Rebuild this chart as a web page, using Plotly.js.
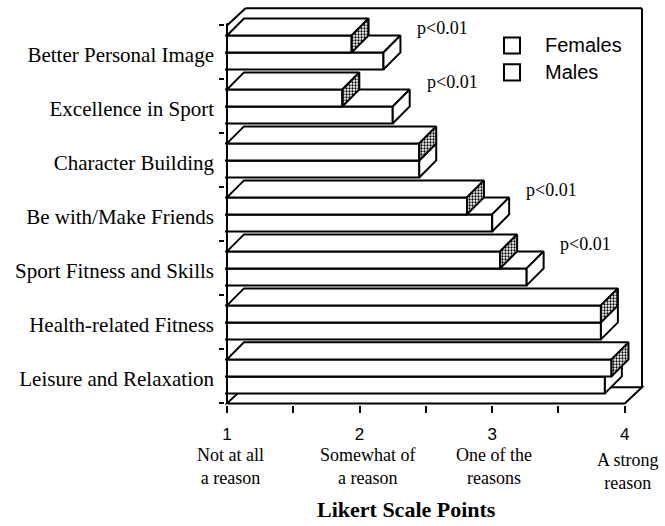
<!DOCTYPE html>
<html><head><meta charset="utf-8">
<script src="https://cdn.plot.ly/plotly-3.0.1.min.js"></script>
<style>html,body{margin:0;padding:0;background:#fff}#chart{width:665px;height:526px}</style>
</head><body><div id="chart"></div>
<script>
// ---- data (bottom category first) ----
const categories = ["Leisure and Relaxation", "Health-related Fitness", "Sport Fitness and Skills",
  "Be with/Make Friends", "Character Building", "Excellence in Sport", "Better Personal Image"];
const females = [3.90, 3.82, 3.06, 2.81, 2.45, 1.87, 1.94];   // upper (back) bar
const males   = [3.85, 3.82, 3.26, 3.00, 2.45, 2.25, 2.18];   // lower (front) bar
const significance = ["", "", "p<0.01", "p<0.01", "", "p<0.01", "p<0.01"];
const seriesNames = ["Females", "Males"];
const tickValues = [1, 2, 3, 4];
const tickLine1 = ["Not at all", "Somewhat of", "One of the", "A strong"];
const tickLine2 = ["a reason", "a reason", "reasons", "reason"];
const xTitle = "Likert Scale Points";

// ---- 3D look geometry (data units) ----
const B = 0.185, H = 0.315, DX = 0.128, DY = 0.315;
const SERIF = "Liberation Serif, Times New Roman, serif";
const SANS = "Liberation Sans, Arial, sans-serif";

function polys(list) {
  const x = [], y = [];
  list.forEach(pts => { pts.forEach(p => { x.push(p[0]); y.push(p[1]); }); x.push(null); y.push(null); });
  return { x, y };
}
function face(pts, xa, ya, pattern) {
  const p = polys(pts);
  const t = { type: 'scatter', mode: 'lines', x: p.x, y: p.y, fill: 'toself', fillcolor: '#ffffff',
    line: { color: '#000', width: 2 }, hoverinfo: 'skip', showlegend: false, xaxis: xa, yaxis: ya };
  if (pattern) t.fillpattern = { shape: '.', fgcolor: '#000', bgcolor: '#fff', size: 3, solidity: 0.45 };
  return t;
}

const lowerTop = categories.map((c, i) => { const y = i + B + H, v = males[i];
  return [[1, y], [v, y], [v + DX, y + DY], [1 + DX, y + DY], [1, y]]; });
const lowerSide = categories.map((c, i) => { const yb = i + B, ym = i + B + H, v = males[i];
  return [[v, yb], [v, ym], [v + DX, ym + DY], [v + DX, yb + DY], [v, yb]]; });
const upperTop = categories.map((c, i) => { const y = i + B + 2 * H, v = females[i];
  return [[1, y], [v, y], [v + DX, y + DY], [1 + DX, y + DY], [1, y]]; });
const upperSide = categories.map((c, i) => { const ym = i + B + H, yt = i + B + 2 * H, v = females[i];
  return [[v, ym], [v, yt], [v + DX, yt + DY], [v + DX, ym + DY], [v, ym]]; });

const traces = [
  { type: 'bar', orientation: 'h', name: seriesNames[1], x: males, y: categories.map((c, i) => i + B + H / 2),
    base: 0, width: H, marker: { color: '#fff', line: { color: '#000', width: 2 } }, hoverinfo: 'skip',
    showlegend: false, xaxis: 'x', yaxis: 'y' },
  face(lowerTop, 'x', 'y', false),
  face(lowerSide, 'x', 'y', false),
  { type: 'bar', orientation: 'h', name: seriesNames[0], x: females, y: categories.map((c, i) => i + B + 1.5 * H),
    base: 0, width: H, marker: { color: '#fff', line: { color: '#000', width: 2 } }, hoverinfo: 'skip',
    showlegend: false, xaxis: 'x2', yaxis: 'y2' },
  face(upperTop, 'x2', 'y2', false),
  face(upperSide, 'x2', 'y2', true)
];

const XR = [0.985, 4.16], YR = [-0.03, 7.36];
const FDX = 0.13, FDY = 0.3, WTOP = 7.32, WDX = 0.14;
const L = { color: '#000', width: 2 };
const shapes = [
  { type: 'path', xref: 'x', yref: 'y', layer: 'below', fillcolor: '#fff', line: L,
    path: `M1,0 L4,0 L${4 + FDX},${FDY} L${1 + FDX},${FDY} Z` },
  { type: 'line', xref: 'x', yref: 'y', x0: 4 + FDX, x1: 4 + FDX, y0: FDY, y1: WTOP, line: L },
  { type: 'line', xref: 'x', yref: 'y', x0: 1 + WDX, x1: 4 + FDX, y0: WTOP, y1: WTOP, line: L },
  { type: 'line', xref: 'x', yref: 'y', x0: 1, x1: 1 + WDX, y0: 7.0, y1: WTOP, line: L },
  { type: 'line', xref: 'x', yref: 'y', x0: 1, x1: 1, y0: 0, y1: 7.04, line: L },
  // legend boxes
  { type: 'rect', xref: 'paper', yref: 'paper', x0: 0.6627, x1: 0.7007, y0: 0.881, y1: 0.921, line: L, fillcolor: '#fff' },
  { type: 'rect', xref: 'paper', yref: 'paper', x0: 0.6627, x1: 0.7007, y0: 0.8135, y1: 0.8537, line: L, fillcolor: '#fff' }
];

const annotations = [];
categories.forEach((c, i) => {
  if (significance[i]) annotations.push({ xref: 'x', yref: 'y', x: males[i] + 0.24, y: i + 0.95,
    xanchor: 'left', yanchor: 'middle', text: significance[i], showarrow: false,
    font: { family: SERIF, size: 18, color: '#000' } });
});
const descShift = [4, 8, 2, 3];
tickValues.forEach((v, k) => {
  const extra = (k === 3) ? -5 : 0;
  annotations.push({ xref: 'x', yref: 'paper', x: v, y: 0, xshift: descShift[k], yshift: -61 + extra,
    yanchor: 'middle', text: tickLine1[k] + '<br>' + tickLine2[k], showarrow: false,
    font: { family: SERIF, size: 18, color: '#000' } });
});
annotations.push({ xref: 'paper', yref: 'paper', x: 0.432, y: 0, yshift: -104, yanchor: 'middle',
  text: '<b>' + xTitle + '</b>', showarrow: false, font: { family: SERIF, size: 22, color: '#000' } });
seriesNames.forEach((n, k) => {
  annotations.push({ xref: 'paper', yref: 'paper', x: 0.7553, y: k === 0 ? 0.9013 : 0.8336,
    xanchor: 'left', yanchor: 'middle', text: n, showarrow: false, font: { family: SANS, size: 20, color: '#000' } });
});

const xTicks = [1, 1.5, 2, 2.5, 3, 3.5, 4];
const layout = {
  width: 665, height: 526, paper_bgcolor: '#fff', plot_bgcolor: 'rgba(0,0,0,0)',
  margin: { l: 225, r: 19, t: 5.6, b: 121.4 },
  showlegend: false, barmode: 'overlay',
  xaxis: { range: XR, showgrid: false, zeroline: false, showline: false, tickmode: 'array',
    tickvals: xTicks, ticktext: xTicks.map(v => tickValues.includes(v) ? String(v) : ''),
    ticks: 'outside', ticklen: 7, tickwidth: 2, tickcolor: '#000', ticklabelstandoff: 7,
    tickfont: { family: SANS, size: 17, color: '#000' } },
  yaxis: { range: YR, showgrid: false, zeroline: false, showline: false, tickmode: 'array',
    tickvals: categories.map((c, i) => i + 0.45), ticktext: categories, ticks: '',
    ticklabelstandoff: 10, tickfont: { family: SERIF, size: 21, color: '#000' },
    minor: { tickmode: 'linear', tick0: 0, dtick: 1, ticks: 'outside', ticklen: 5, tickwidth: 2, tickcolor: '#000', showgrid: false } },
  xaxis2: { range: XR, overlaying: 'x', anchor: 'y2', visible: false },
  yaxis2: { range: YR, overlaying: 'y', anchor: 'x2', visible: false },
  shapes, annotations
};
Plotly.newPlot('chart', traces, layout, { staticPlot: true, displayModeBar: false });
</script></body></html>
